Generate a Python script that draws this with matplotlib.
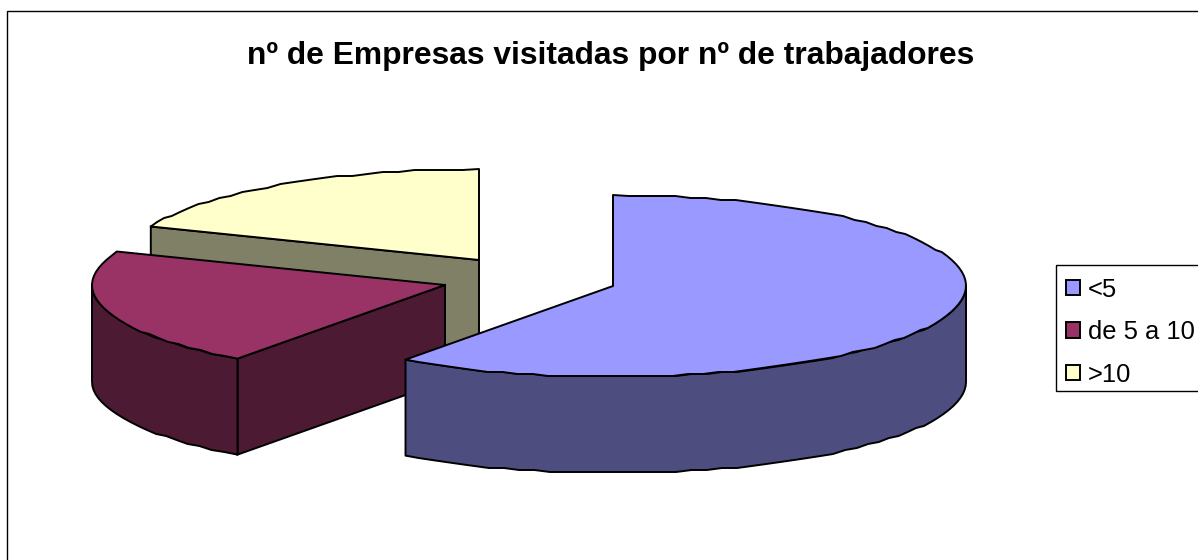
import numpy as np
import matplotlib
matplotlib.use("Agg")
import matplotlib.pyplot as plt
from matplotlib.patches import Polygon, Rectangle

plt.rcParams['font.family'] = ['Liberation Sans', 'DejaVu Sans']

# percent
categories = ["<5", "de 5 a 10", ">10"]
shares = [60, 21, 19]
title = "nº de Empresas visitadas por nº de trabajadores"

colors = ["#9999FF", "#993366", "#FFFFCC"]
side_colors = ["#4D4D80", "#4D1A33", "#808066"]
# exploded apex of each slice, in pixels
apex = [(613, 286), (445, 285), (479, 260)]

RX, RY = 353, 91
DEPTH = 96
W, H = 1198, 560


def arc(center, a0, a1):
    """Points on the top ellipse, angles clockwise from 12 o'clock."""
    n = max(int((a1 - a0) / 2.5), 2)
    t = np.radians(np.linspace(a0, a1, n))
    x = center[0] + RX * np.sin(t)
    y = center[1] - RY * np.cos(t)
    # the original outline is stepped, keep a bit of that
    y[1:-1] = np.round(y[1:-1] / 2) * 2
    return np.column_stack([x, y])


fig = plt.figure(figsize=(W / 100, H / 100), dpi=100)
ax = fig.add_axes([0, 0, 1, 1])
ax.set_xlim(0, W)
ax.set_ylim(H, 0)
ax.axis('off')

# chart frame, runs off the right and bottom edges
ax.add_patch(Rectangle((7, 11), W, H, fill=False, ec='black', lw=1.0))

fracs = np.array(shares) / sum(shares)
ends = np.cumsum(fracs) * 360
starts = ends - fracs * 360

# back to front
for i in [2, 1, 0]:
    c = np.array(apex[i], dtype=float)
    a0, a1 = starts[i], ends[i]
    pts = arc(c, a0, a1)
    drop = np.array([0, DEPTH])

    # cut face on the start edge
    face = np.array([c, pts[0], pts[0] + drop, c + drop])
    ax.add_patch(Polygon(face, fc=side_colors[i], ec='black', lw=1.4, joinstyle='miter'))

    # rim, only the front half of the ellipse shows
    lo, hi = max(a0, 90), min(a1, 270)
    if hi > lo:
        rim = arc(c, lo, hi)
        ax.add_patch(Polygon(np.vstack([rim, rim[::-1] + drop]),
                             fc=side_colors[i], ec='black', lw=1.4, joinstyle='round'))

    ax.add_patch(Polygon(np.vstack([c, pts]), fc=colors[i], ec='black', lw=1.4,
                         joinstyle='round', label=categories[i]))

ax.text(611, 56, title, ha='center', va='center', fontsize=22.9, fontweight='bold')

# legend box drawn apart so its height can be set, it is cut by the right edge
ax.add_patch(Rectangle((1056, 265), 200, 126, fc='white', ec='black', lw=1.0))

handles, labels = ax.get_legend_handles_labels()
order = [labels.index(c) for c in categories]
leg = ax.legend([handles[k] for k in order], [labels[k] for k in order],
                loc='upper left', bbox_to_anchor=(1055 / W, 1 - 267 / H),
                bbox_transform=fig.transFigure, borderaxespad=0,
                fontsize=18.4, frameon=False,
                handlelength=0.55, handleheight=0.55,
                handletextpad=0.31, labelspacing=0.72, borderpad=0.42)

fig.savefig("out.png", dpi=100)
